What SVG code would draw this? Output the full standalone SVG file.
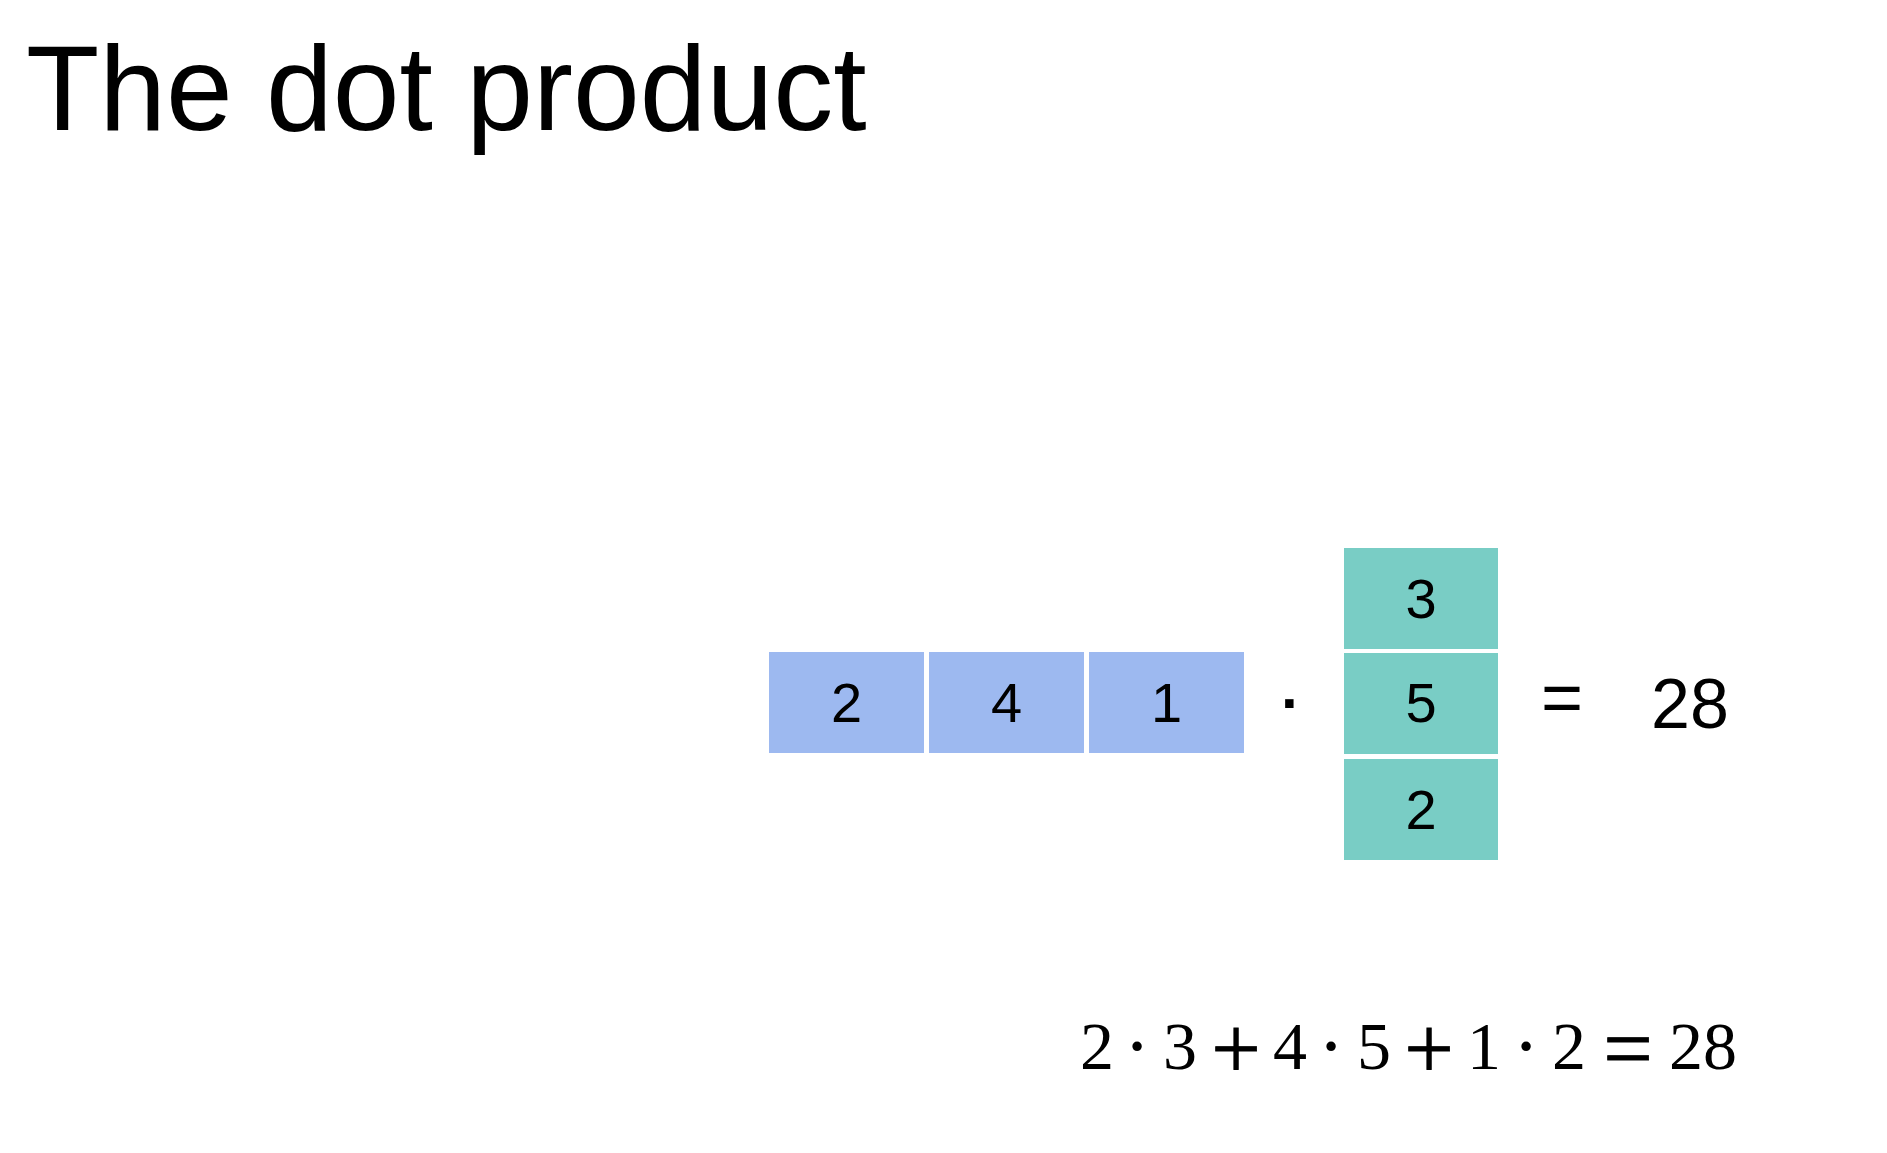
<svg xmlns="http://www.w3.org/2000/svg" width="1887" height="1153" viewBox="0 0 1887 1153">
  <style>
    .sans { font-family: "Liberation Sans", Arial, Helvetica, sans-serif; fill: #000; }
    .serif { font-family: "Liberation Serif", "Times New Roman", serif; fill: #000; text-anchor: middle; }
    .row { fill: #9db9f0; }
    .col { fill: #79cdc5; }
    .num { font-size: 56px; text-anchor: middle; }
    .eqd { font-size: 68px; }
    .eqo { font-size: 88px; stroke: #000; stroke-width: 0.8px; }
    .eqdot { font-size: 80px; }
  </style>
  <rect x="0" y="0" width="1887" height="1153" fill="#ffffff"/>

  <text id="title" class="sans" x="26" y="130" font-size="120">The dot product</text>

  <g id="row-vector">
    <g id="row-2">
      <rect class="row" x="769" y="652" width="155" height="101"/>
      <text class="sans num" x="846.5" y="722">2</text>
    </g>
    <g id="row-4">
      <rect class="row" x="929" y="652" width="155" height="101"/>
      <text class="sans num" x="1006.5" y="722">4</text>
    </g>
    <g id="row-1">
      <rect class="row" x="1089" y="652" width="155" height="101"/>
      <text class="sans num" x="1166.5" y="722">1</text>
    </g>
  </g>

  <text id="dot-op" class="sans" x="1291" y="723" font-size="60" font-weight="bold" text-anchor="middle">·</text>

  <g id="col-vector">
    <g id="col-3">
      <rect class="col" x="1344" y="548" width="154" height="101"/>
      <text class="sans num" x="1421" y="618">3</text>
    </g>
    <g id="col-5">
      <rect class="col" x="1344" y="653" width="154" height="101"/>
      <text class="sans num" x="1421" y="722">5</text>
    </g>
    <g id="col-2">
      <rect class="col" x="1344" y="759" width="154" height="101"/>
      <text class="sans num" x="1421" y="829">2</text>
    </g>
  </g>

  <text id="equals" class="sans" x="1562" y="722" font-size="72" text-anchor="middle">=</text>
  <text id="result" class="sans" x="1651" y="728" font-size="70">28</text>

  <g id="equation">
    <text class="serif eqd" x="1097" y="1069">2</text>
    <text class="serif eqdot" x="1137" y="1073">·</text>
    <text class="serif eqd" x="1180" y="1069">3</text>
    <text class="serif eqo" x="1236" y="1078">+</text>
    <text class="serif eqd" x="1290" y="1069">4</text>
    <text class="serif eqdot" x="1331" y="1073">·</text>
    <text class="serif eqd" x="1374" y="1069">5</text>
    <text class="serif eqo" x="1429" y="1078">+</text>
    <text class="serif eqd" x="1484" y="1069">1</text>
    <text class="serif eqdot" x="1526" y="1073">·</text>
    <text class="serif eqd" x="1569" y="1069">2</text>
    <text class="serif eqo" x="1628" y="1078">=</text>
    <text class="serif eqd" x="1703" y="1069">28</text>
  </g>
</svg>
